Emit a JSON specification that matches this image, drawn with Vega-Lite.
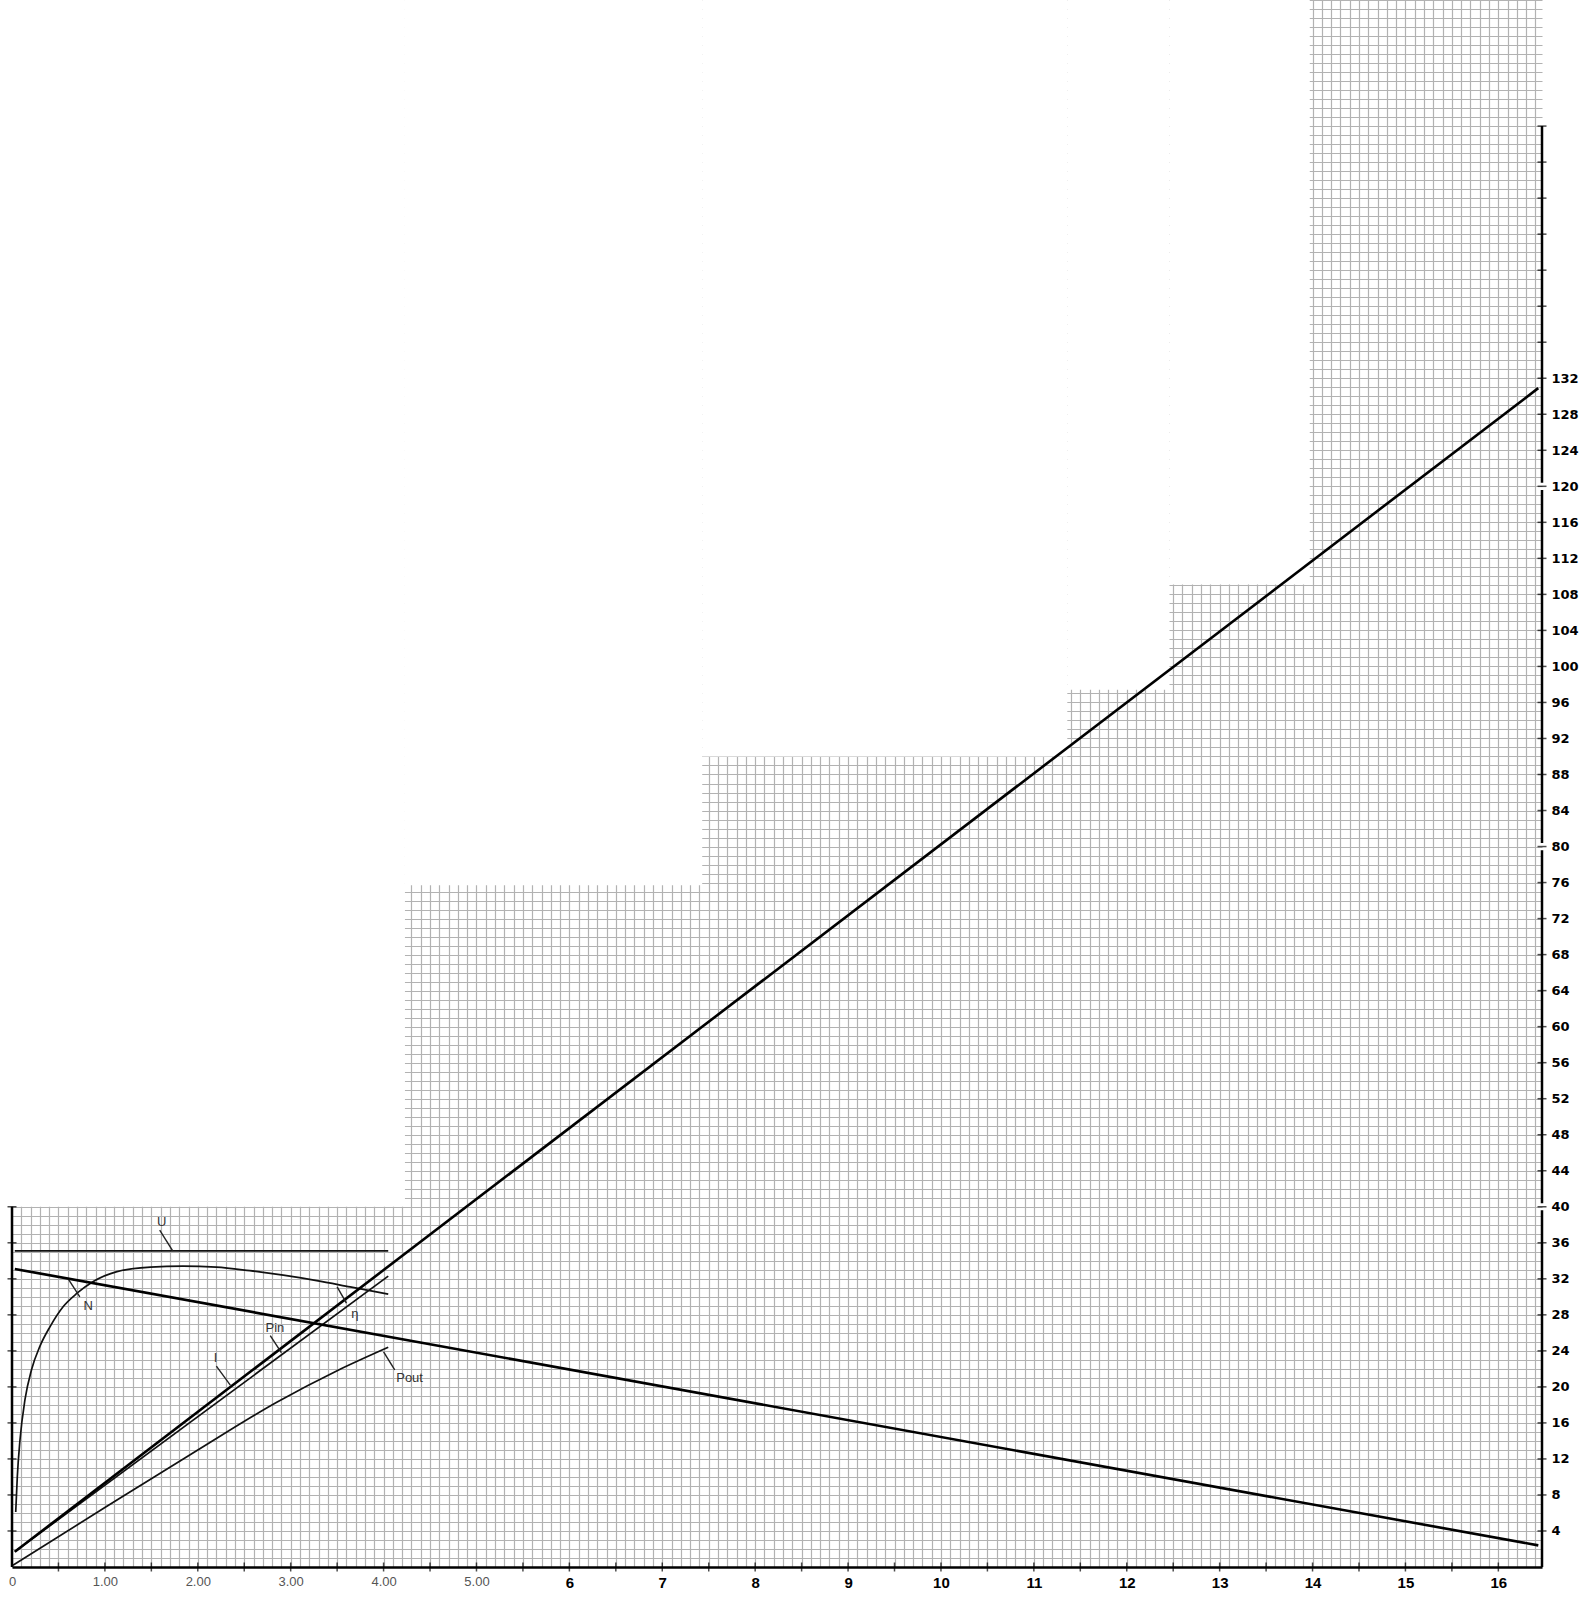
{
  "$schema": "https://vega.github.io/schema/vega-lite/v6.json",
  "width": 1530,
  "height": 1567,
  "autosize": {"type": "none"},
  "padding": {"left": 12, "top": 0, "right": 52, "bottom": 33},
  "background": "white",
  "config": {"view": {"stroke": null}},
  "datasets": {
    "masks": [
      {"x0": -0.12, "x1": 4.23, "y0": 40, "y1": 174},
      {"x0": 4.23, "x1": 7.43, "y0": 75.7, "y1": 174},
      {"x0": 7.43, "x1": 11.36, "y0": 90.0, "y1": 174},
      {"x0": 11.36, "x1": 12.46, "y0": 97.4, "y1": 174},
      {"x0": 12.46, "x1": 13.97, "y0": 109.1, "y1": 174}
    ],
    "curves": [
      {"s": "U", "x": 0.03, "y": 35.1}, {"s": "U", "x": 4.05, "y": 35.1},
      {"s": "N", "x": 0.03, "y": 33.1}, {"s": "N", "x": 16.43, "y": 2.4},
      {"s": "I", "x": 0.03, "y": 1.7}, {"s": "I", "x": 16.43, "y": 130.9},
      {"s": "Pin", "x": 0.03, "y": 1.7}, {"s": "Pin", "x": 4.05, "y": 32.3},
      {"s": "Pout", "x": 0.01, "y": 0.2}, {"s": "Pout", "x": 1.0, "y": 6.6}, {"s": "Pout", "x": 2.0, "y": 13.0}, {"s": "Pout", "x": 2.85, "y": 18.3}, {"s": "Pout", "x": 3.5, "y": 21.8}, {"s": "Pout", "x": 4.05, "y": 24.4},
      {"s": "η", "x": 0.04, "y": 6.1}, {"s": "η", "x": 0.057, "y": 10.0}, {"s": "η", "x": 0.086, "y": 14.1}, {"s": "η", "x": 0.14, "y": 18.6}, {"s": "η", "x": 0.21, "y": 21.9}, {"s": "η", "x": 0.30, "y": 24.5}, {"s": "η", "x": 0.41, "y": 26.7}, {"s": "η", "x": 0.55, "y": 28.9}, {"s": "η", "x": 0.70, "y": 30.4}, {"s": "η", "x": 0.875, "y": 31.7}, {"s": "η", "x": 1.13, "y": 32.8}, {"s": "η", "x": 1.49, "y": 33.3}, {"s": "η", "x": 1.84, "y": 33.4}, {"s": "η", "x": 2.20, "y": 33.3}, {"s": "η", "x": 2.56, "y": 32.9}, {"s": "η", "x": 2.92, "y": 32.4}, {"s": "η", "x": 3.28, "y": 31.8}, {"s": "η", "x": 3.64, "y": 31.1}, {"s": "η", "x": 4.05, "y": 30.3}
    ],
    "leaders": [
      {"x0": 1.59, "y0": 37.4, "x1": 1.73, "y1": 35.1},
      {"x0": 0.61, "y0": 31.9, "x1": 0.73, "y1": 30.0},
      {"x0": 3.50, "y0": 31.1, "x1": 3.60, "y1": 29.3},
      {"x0": 2.78, "y0": 25.7, "x1": 2.90, "y1": 23.8},
      {"x0": 2.20, "y0": 22.3, "x1": 2.35, "y1": 20.2},
      {"x0": 4.00, "y0": 23.9, "x1": 4.12, "y1": 21.9}
    ],
    "labels": [
      {"t": "U", "x": 1.61, "y": 38.3},
      {"t": "N", "x": 0.82, "y": 29.0},
      {"t": "η", "x": 3.69, "y": 28.1},
      {"t": "Pin", "x": 2.83, "y": 26.5},
      {"t": "I", "x": 2.19, "y": 23.2},
      {"t": "Pout", "x": 4.28, "y": 21.0}
    ],
    "xticks": [
      {"v": 0.5}, {"v": 1}, {"v": 1.5}, {"v": 2}, {"v": 2.5}, {"v": 3}, {"v": 3.5}, {"v": 4}, {"v": 4.5}, {"v": 5}, {"v": 5.5}, {"v": 6}, {"v": 6.5}, {"v": 7}, {"v": 7.5}, {"v": 8}, {"v": 8.5}, {"v": 9}, {"v": 9.5}, {"v": 10}, {"v": 10.5}, {"v": 11}, {"v": 11.5}, {"v": 12}, {"v": 12.5}, {"v": 13}, {"v": 13.5}, {"v": 14}, {"v": 14.5}, {"v": 15}, {"v": 15.5}, {"v": 16}
    ],
    "rticks": [
      {"v": 4}, {"v": 8}, {"v": 12}, {"v": 16}, {"v": 20}, {"v": 24}, {"v": 28}, {"v": 32}, {"v": 36}, {"v": 40}, {"v": 44}, {"v": 48}, {"v": 52}, {"v": 56}, {"v": 60}, {"v": 64}, {"v": 68}, {"v": 72}, {"v": 76}, {"v": 80}, {"v": 84}, {"v": 88}, {"v": 92}, {"v": 96}, {"v": 100}, {"v": 104}, {"v": 108}, {"v": 112}, {"v": 116}, {"v": 120}, {"v": 124}, {"v": 128}, {"v": 132}, {"v": 136}, {"v": 140}, {"v": 144}, {"v": 148}, {"v": 152}, {"v": 156}, {"v": 160}
    ],
    "lticks": [
      {"v": 4}, {"v": 8}, {"v": 12}, {"v": 16}, {"v": 20}, {"v": 24}, {"v": 28}, {"v": 32}, {"v": 36}, {"v": 40}
    ],
    "axislines": [
      {"x": 0, "y0": 0, "y1": 40},
      {"x": 16.47, "y0": 0, "y1": 39.6},
      {"x": 16.47, "y0": 40.4, "y1": 79.6},
      {"x": 16.47, "y0": 80.4, "y1": 119.6},
      {"x": 16.47, "y0": 120.4, "y1": 160}
    ]
  },
  "layer": [
    {
      "data": {"name": "masks"},
      "mark": {"type": "rect", "fill": "white", "strokeWidth": 0},
      "encoding": {
        "x": {
          "field": "x0", "type": "quantitative", "title": null,
          "scale": {"domain": [0, 16.47], "nice": false, "zero": false},
          "axis": {
            "orient": "bottom",
            "grid": true, "gridColor": "#b2b2b2", "gridWidth": 1.2,
            "tickCount": 165,
            "ticks": false,
            "domain": true, "domainColor": "#000000", "domainWidth": 2.5,
            "labelOverlap": false, "labelFlush": false, "labelBound": false,
            "labelPadding": 8,
            "labelFont": "Liberation Sans",
            "labelExpr": "abs(datum.value - round(datum.value)) > 0.001 ? '' : (round(datum.value) == 0 ? '0' : (round(datum.value) <= 5 ? format(datum.value, '.2f') : format(round(datum.value), 'd')))",
            "labelFontWeight": {"condition": {"test": "datum.value > 5.5", "value": "bold"}, "value": "normal"},
            "labelFontSize": {"condition": {"test": "datum.value > 5.5", "value": 15}, "value": 13},
            "labelColor": {"condition": {"test": "datum.value > 5.5", "value": "#000000"}, "value": "#555555"}
          }
        },
        "x2": {"field": "x1"},
        "y": {
          "field": "y0", "type": "quantitative", "title": null,
          "scale": {"domain": [0, 174], "nice": false, "zero": false},
          "axis": {
            "orient": "right",
            "grid": true, "gridColor": "#b2b2b2", "gridWidth": 1.2,
            "tickCount": 174,
            "ticks": false,
            "domain": false,
            "labelOverlap": false, "labelFlush": false, "labelBound": false,
            "labelPadding": 9,
            "labelFont": "DejaVu Sans", "labelFontWeight": "bold", "labelFontSize": 13, "labelColor": "#000000",
            "labelExpr": "(round(datum.value) % 4 == 0 && datum.value >= 4 && datum.value <= 132) ? format(round(datum.value), 'd') : ''"
          }
        },
        "y2": {"field": "y1"}
      }
    },
    {
      "data": {"name": "axislines"},
      "mark": {"type": "rule", "color": "#000000", "strokeWidth": 2.5},
      "encoding": {
        "x": {"field": "x", "type": "quantitative", "title": null},
        "y": {"field": "y0", "type": "quantitative", "title": null},
        "y2": {"field": "y1"}
      }
    },
    {
      "data": {"name": "xticks"},
      "mark": {"type": "tick", "orient": "vertical", "size": 9, "thickness": 1.5, "color": "#000000"},
      "encoding": {
        "x": {"field": "v", "type": "quantitative", "title": null},
        "y": {"datum": 0, "type": "quantitative", "title": null}
      }
    },
    {
      "data": {"name": "rticks"},
      "mark": {"type": "tick", "orient": "horizontal", "size": 9, "thickness": 1.5, "color": "#000000"},
      "encoding": {
        "x": {"datum": 16.47, "type": "quantitative", "title": null},
        "y": {"field": "v", "type": "quantitative", "title": null}
      }
    },
    {
      "data": {"name": "lticks"},
      "mark": {"type": "tick", "orient": "horizontal", "size": 9, "thickness": 1.5, "color": "#000000"},
      "encoding": {
        "x": {"datum": 0, "type": "quantitative", "title": null},
        "y": {"field": "v", "type": "quantitative", "title": null}
      }
    },
    {
      "data": {"name": "curves"},
      "transform": [{"filter": "datum.s != 'N' && datum.s != 'I'"}],
      "mark": {"type": "line", "interpolate": "monotone", "color": "#111111", "strokeWidth": 1.7},
      "encoding": {
        "x": {"field": "x", "type": "quantitative", "title": null},
        "y": {"field": "y", "type": "quantitative", "title": null},
        "detail": {"field": "s", "type": "nominal"}
      }
    },
    {
      "data": {"name": "curves"},
      "transform": [{"filter": "datum.s == 'N' || datum.s == 'I'"}],
      "mark": {"type": "line", "color": "#000000", "strokeWidth": 2.6},
      "encoding": {
        "x": {"field": "x", "type": "quantitative", "title": null},
        "y": {"field": "y", "type": "quantitative", "title": null},
        "detail": {"field": "s", "type": "nominal"}
      }
    },
    {
      "data": {"name": "leaders"},
      "mark": {"type": "rule", "color": "#222222", "strokeWidth": 1.4},
      "encoding": {
        "x": {"field": "x0", "type": "quantitative", "title": null},
        "y": {"field": "y0", "type": "quantitative", "title": null},
        "x2": {"field": "x1"},
        "y2": {"field": "y1"}
      }
    },
    {
      "data": {"name": "labels"},
      "mark": {"type": "text", "font": "Liberation Sans", "fontSize": 13, "color": "#333333", "align": "center", "baseline": "middle"},
      "encoding": {
        "x": {"field": "x", "type": "quantitative", "title": null},
        "y": {"field": "y", "type": "quantitative", "title": null},
        "text": {"field": "t", "type": "nominal"}
      }
    }
  ]
}
